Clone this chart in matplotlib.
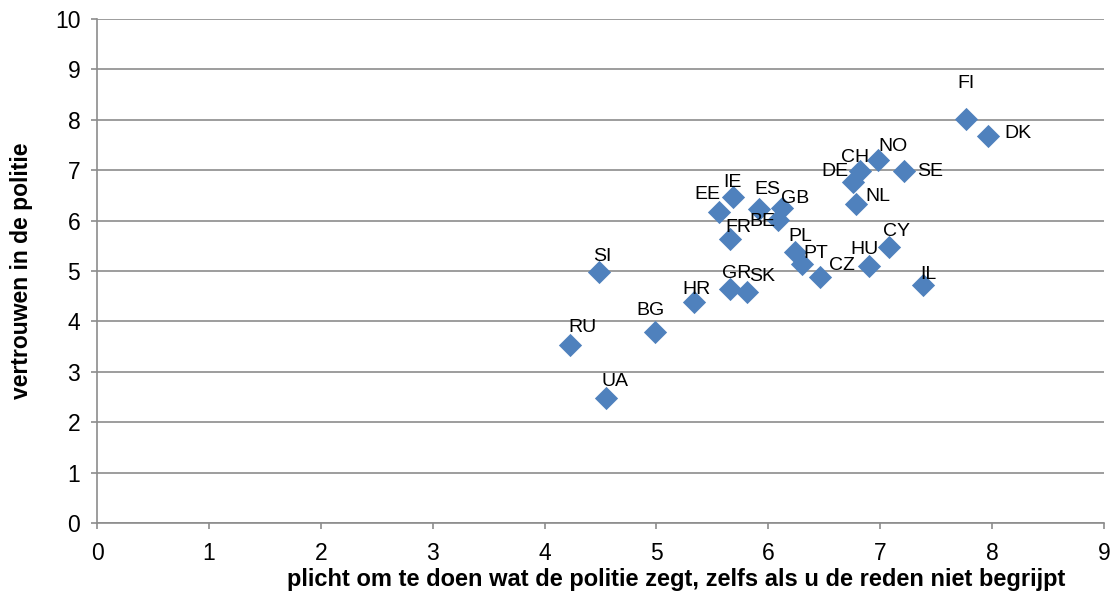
import matplotlib
matplotlib.use("Agg")
import matplotlib.pyplot as plt

plt.rcParams['font.family'] = ['Liberation Sans', 'DejaVu Sans']

countries = ["FI", "DK", "NO", "CH", "DE", "SE", "NL", "IE", "EE", "ES", "GB", "BE", "FR",
             "PL", "PT", "CZ", "HU", "CY", "IL", "SI", "GR", "SK", "HR", "BG", "RU", "UA"]
plicht = [7.77, 7.96, 6.98, 6.82, 6.76, 7.21, 6.78, 5.68, 5.56, 5.92, 6.12, 6.09, 5.66,
          6.24, 6.30, 6.46, 6.90, 7.08, 7.38, 4.49, 5.66, 5.81, 5.34, 4.99, 4.23, 4.55]
vertrouwen = [8.02, 7.68, 7.20, 6.98, 6.77, 6.98, 6.33, 6.47, 6.17, 6.23, 6.25, 6.01, 5.63,
              5.38, 5.14, 4.88, 5.10, 5.48, 4.72, 4.98, 4.64, 4.58, 4.38, 3.79, 3.53, 2.48]
x_ticks = list(range(0, 10))
y_ticks = list(range(0, 11))

# label offsets in pixels (dx right, dy up)
offsets = {"FI": (0, 35), "DK": (30, 2), "NO": (15, 14), "CH": (-5, 14), "DE": (-18, 10),
           "SE": (26, 0), "NL": (22, 7), "IE": (0, 14), "EE": (-12, 18), "ES": (8, 20),
           "GB": (13, 9), "BE": (-16, -1), "FR": (8, 12), "PL": (5, 15), "PT": (14, 10),
           "CZ": (22, 12), "HU": (-5, 16), "CY": (7, 15), "IL": (6, 11), "SI": (3, 16),
           "GR": (6, 16), "SK": (15, 16), "HR": (2, 13), "BG": (-5, 21), "RU": (12, 18),
           "UA": (9, 17)}

fig = plt.figure(figsize=(11.15, 5.95), dpi=100)
ax = fig.add_axes([97/1115, 72/595, 1007/1115, 504/595])
ax.scatter(plicht, vertrouwen, marker='D', s=140, color='#4F81BD', zorder=3, linewidths=0)
for c, xv, yv in zip(countries, plicht, vertrouwen):
    dx, dy = offsets[c]
    ax.annotate(c, (xv, yv), xytext=(dx * 0.72, dy * 0.72), textcoords='offset points',
                ha='center', va='center', fontsize=14, color='black', zorder=4)

ax.set_xlim(0, 9)
ax.set_ylim(0, 10)
ax.set_xticks(x_ticks)
ax.set_yticks(y_ticks)
ax.yaxis.grid(True, color='#8c8c8c', linewidth=1.2)
ax.set_axisbelow(True)
for s in ['top', 'right']:
    ax.spines[s].set_visible(False)
for s in ['left', 'bottom']:
    ax.spines[s].set_color('#8c8c8c')
    ax.spines[s].set_linewidth(1.2)
ax.tick_params(axis='both', colors='#8c8c8c', labelcolor='black', labelsize=16.5, length=4, width=1.2)
ax.tick_params(axis='x', pad=10)
ax.tick_params(axis='y', pad=8)
ax.set_xlabel("plicht om te doen wat de politie zegt, zelfs als u de reden niet begrijpt",
              fontsize=17, fontweight='bold', va='center')
ax.xaxis.set_label_coords(0.575, -0.113)
ax.set_ylabel("vertrouwen in de politie", fontsize=16.5, fontweight='bold', va='center')
ax.yaxis.set_label_coords(-0.0745, 0.5)

fig.savefig("out.png", dpi=100)
